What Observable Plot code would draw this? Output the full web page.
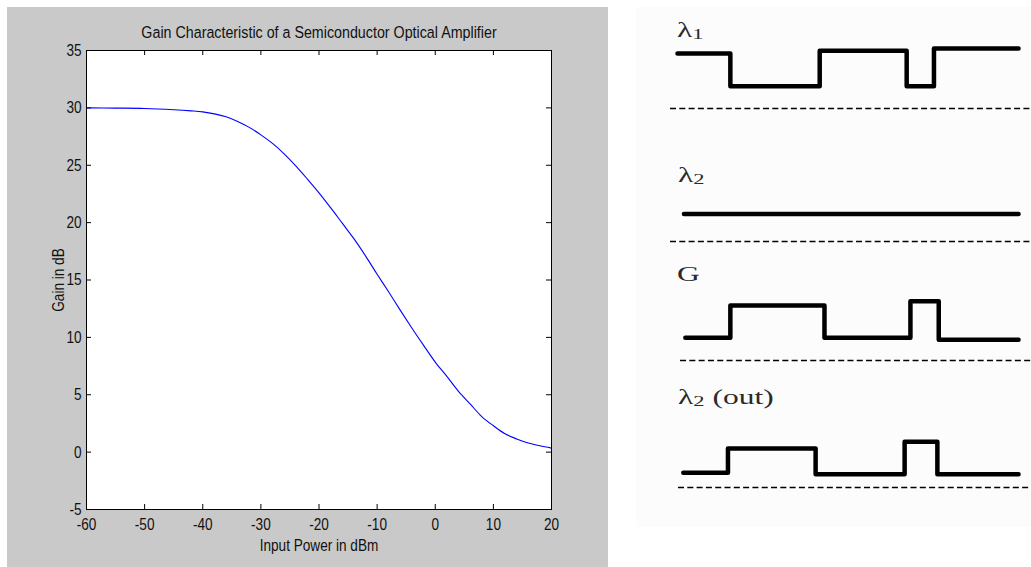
<!DOCTYPE html>
<html><head><meta charset="utf-8">
<script src="https://cdn.jsdelivr.net/npm/d3@7"></script>
<script src="https://cdn.jsdelivr.net/npm/@observablehq/plot@0.6"></script>
<style>
html,body{margin:0;padding:0;background:#fff;}
#wrap{position:relative;width:1031px;height:567px;overflow:hidden;}
#grey{position:absolute;left:7px;top:7px;width:601px;height:560px;background:#c9c9c9;}
#paper{position:absolute;left:636px;top:7px;width:395px;height:520px;background:#fcfcfc;}
.abs{position:absolute;}
.lab{position:absolute;font-family:"Liberation Serif","Times New Roman",serif;font-size:21px;line-height:20px;color:#2a2a2a;transform:scaleX(1.5);transform-origin:0 0;white-space:nowrap;}
.lab sub{font-size:15px;vertical-align:-2px;line-height:0;}
</style></head><body>
<div id="wrap"><div id="grey"></div><div id="paper"></div></div>
<script>
// ---- Left chart data ----
const chartTitle = "Gain Characteristic of a Semiconductor Optical Amplifier";
const xLabel = "Input Power in dBm";
const yLabel = "Gain in dB";
const xTicks = [-60,-50,-40,-30,-20,-10,0,10,20];
const yTicks = [-5,0,5,10,15,20,25,30,35];
const inputPower = [-60,-55,-50,-45,-42,-40,-38,-36,-34,-32,-30,-28,-26,-24,-22,-20,-18,-16,-14,-12,-10,-8,-6,-4,-2,0,2,4,6,8,10,12,14,16,18,20];
const gainDb = [30.0,29.98,29.95,29.84,29.74,29.65,29.48,29.22,28.82,28.3,27.65,26.9,26.0,24.95,23.8,22.6,21.3,19.95,18.6,17.1,15.5,13.95,12.35,10.8,9.3,7.85,6.6,5.3,4.2,3.1,2.3,1.6,1.15,0.8,0.55,0.35];

// ---- Right diagram data (time units, signal levels) ----
const rowLabels = ["λ<sub>1</sub>", "λ<sub>2</sub>", "G", "λ<sub>2</sub> (out)"];
const timeRange = [-2.05, 103.8];
const lambda1Times = [0, 15.5, 41.7, 67.2, 75.2, 100];
const lambda1Levels = [5.0, 2.03, 5.24, 2.03, 5.45];
const lambda2Times = [1.9, 100];
const lambda2Levels = [2.49];
const gainTimes = [2.3, 15.5, 43.1, 68.3, 76.6, 100];
const gainLevels = [2.06, 5.0, 2.06, 5.39, 1.88];
const outTimes = [1.7, 14.8, 40.5, 66.6, 76.2, 100];
const outLevels = [1.33, 3.55, 1.21, 4.15, 1.21];
const dashStarts = [-2.05, -2.05, 0.9, 0.3];

const FONT = '"Liberation Sans",Arial,sans-serif';
const wrap = document.getElementById("wrap");

// ---- Left plot ----
const W = 620, H = 567, ml = 86, mr = 69, mt = 50, mb = 58;
const iw = W - ml - mr, ih = H - mt - mb;
const curve = inputPower.map((p, i) => ({p, g: gainDb[i]}));
const left = Plot.plot({
  width: W, height: H, marginLeft: ml, marginRight: mr, marginTop: mt, marginBottom: mb,
  style: {background: "transparent", fontFamily: FONT, fontSize: "17px", color: "#111", overflow: "visible"},
  x: {domain: [-60, 20], axis: null},
  y: {domain: [-5, 35], axis: null},
  marks: [
    Plot.frame({fill: "white", stroke: "none"}),
    Plot.tickX(xTicks, {x: d => d, insetTop: ih - 5, stroke: "#000"}),
    Plot.tickX(xTicks, {x: d => d, insetBottom: ih - 5, stroke: "#000"}),
    Plot.tickY(yTicks, {y: d => d, insetRight: iw - 5, stroke: "#000"}),
    Plot.tickY(yTicks, {y: d => d, insetLeft: iw - 5, stroke: "#000"}),
    Plot.line(curve, {x: "p", y: "g", stroke: "#0000ff", strokeWidth: 1.1, curve: "catmull-rom"}),
    Plot.frame({stroke: "#000"}),
    Plot.axisX(xTicks, {tickSize: 0, tickPadding: 8, tickFormat: d => String(d), label: null}),
    Plot.axisY(yTicks, {tickSize: 0, tickPadding: 5, tickFormat: d => String(d), label: null}),
    Plot.text([xLabel], {text: d => d, frameAnchor: "bottom", dy: 36, textAnchor: "middle", lineAnchor: "middle"}),
    Plot.text([yLabel], {text: d => d, frameAnchor: "left", dx: -28, rotate: -90, textAnchor: "middle", lineAnchor: "middle"}),
    Plot.text([chartTitle], {text: d => d, frameAnchor: "top", dy: -18, textAnchor: "middle", lineAnchor: "middle", className: "ttl"})
  ]
});
// condensed (MATLAB-like) lettering: narrow each label along its baseline
d3.select(left).selectAll("text").each(function() {
  const t = this.getAttribute("transform") || "";
  const isTitle = this.closest(".ttl") !== null;
  this.setAttribute("transform", t + (isTitle ? " scale(0.84,1)" : " scale(0.8,1)"));
});
left.classList.add("abs");
left.style.left = "0px"; left.style.top = "0px";
wrap.appendChild(left);

// ---- Right timing diagrams ----
const rowsDef = [
  {times: lambda1Times, levels: lambda1Levels, top: 38.3, labTop: 20, labLeft: 677},
  {times: lambda2Times, levels: lambda2Levels, top: 170.7, labTop: 165, labLeft: 678},
  {times: gainTimes, levels: gainLevels, top: 290, labTop: 264, labLeft: 677},
  {times: outTimes, levels: outLevels, top: 417.3, labTop: 387, labLeft: 678}
];
rowsDef.forEach((r, k) => {
  const pts = r.times.map((t, i) => ({t, v: r.levels[Math.min(i, r.levels.length - 1)]}));
  const svg = Plot.plot({
    width: 411, height: 75, marginLeft: 50, marginRight: 0, marginTop: 4, marginBottom: 5,
    style: {background: "transparent", overflow: "visible"},
    x: {domain: timeRange, axis: null},
    y: {domain: [0, 6], axis: null},
    marks: [
      Plot.ruleY([0], {x1: dashStarts[k], x2: timeRange[1], stroke: "#000", strokeWidth: 1.5, strokeDasharray: "6,3.3"}),
      Plot.line(pts, {x: "t", y: "v", curve: "step-after", stroke: "#000", strokeWidth: 4.5, strokeLinejoin: "round", strokeLinecap: "round"})
    ]
  });
  svg.classList.add("abs");
  svg.style.left = "620px"; svg.style.top = r.top + "px";
  wrap.appendChild(svg);
  const lab = document.createElement("div");
  lab.className = "lab";
  lab.innerHTML = rowLabels[k];
  lab.style.left = r.labLeft + "px"; lab.style.top = r.labTop + "px";
  wrap.appendChild(lab);
});
</script>
</body></html>
